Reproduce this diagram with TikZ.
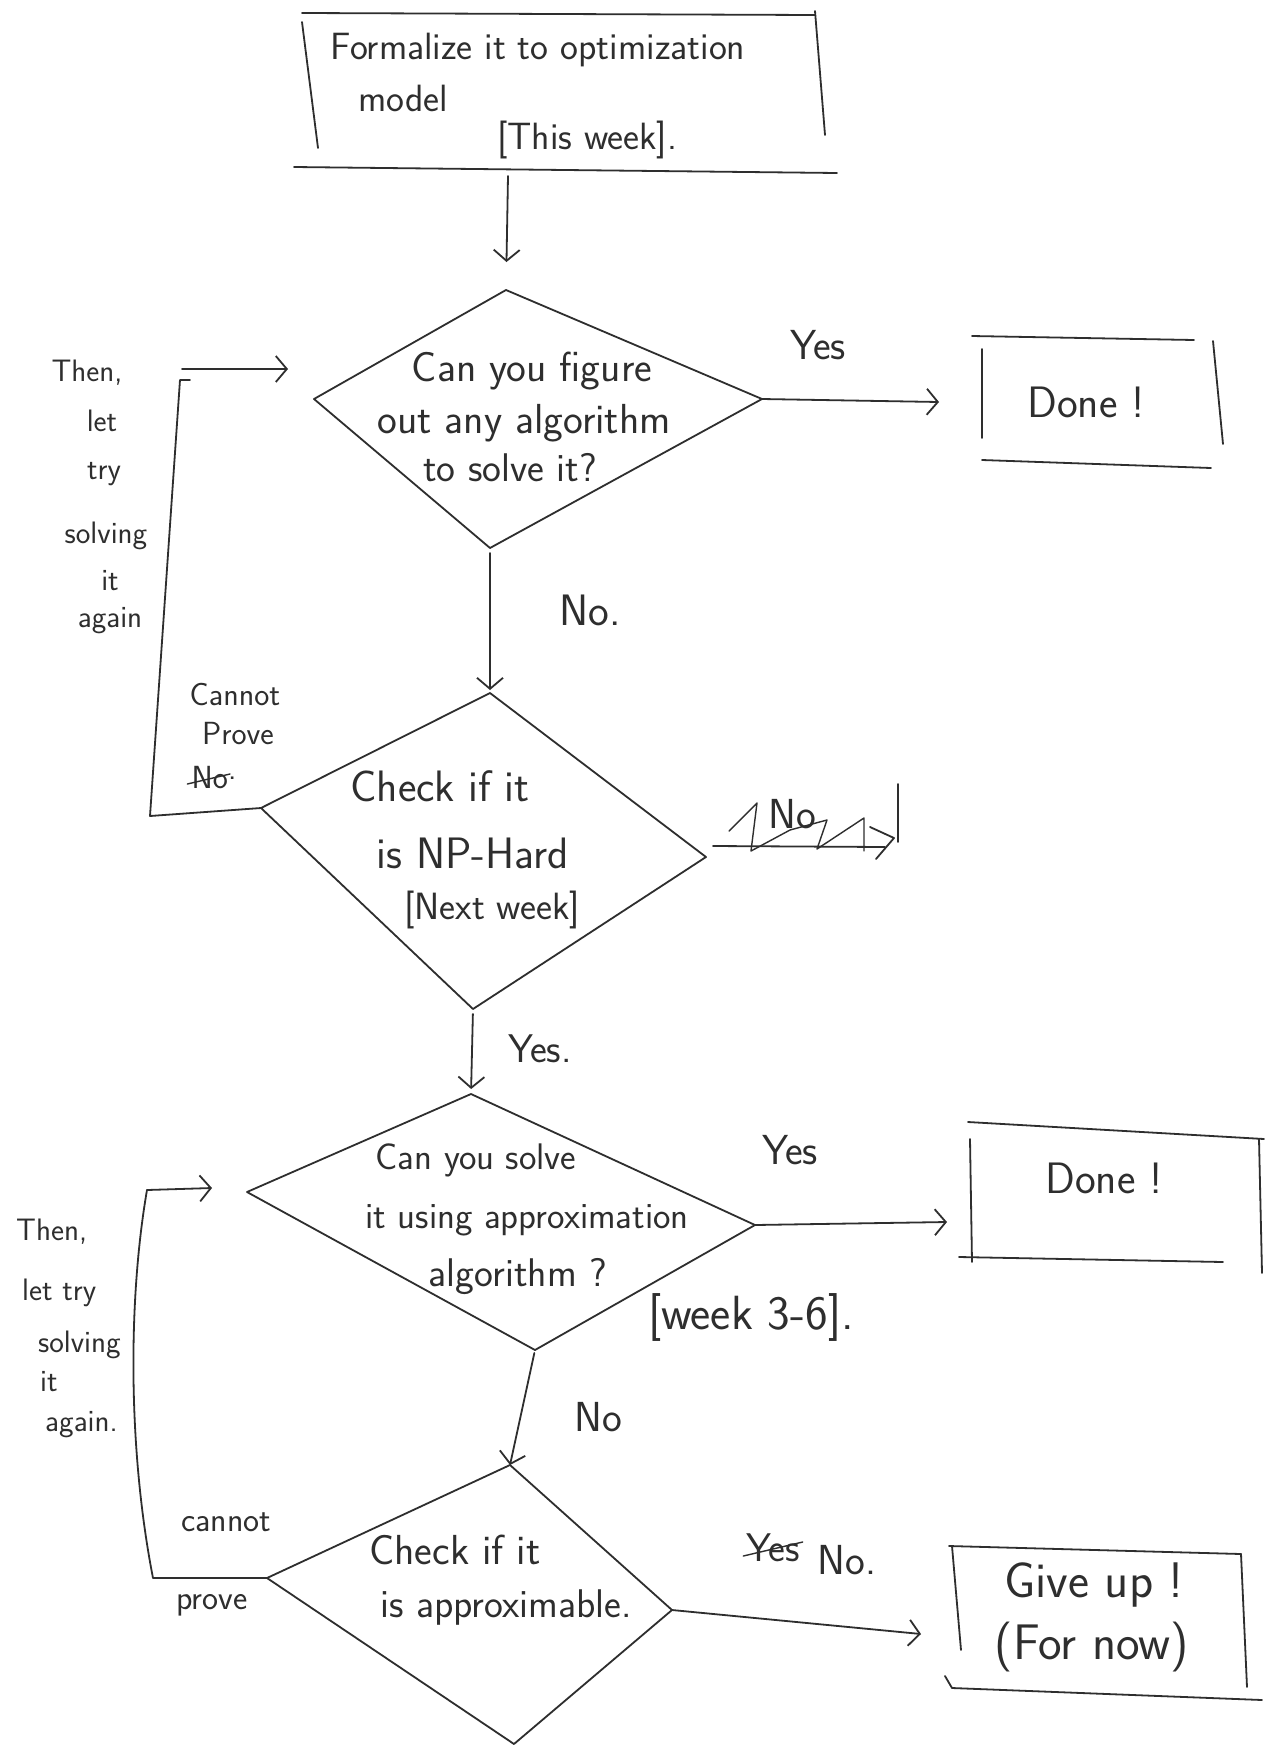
\documentclass[tikz,border=0pt]{standalone}
\usetikzlibrary{arrows.meta,calc}
\definecolor{inkc}{HTML}{2E2E2E}
\newcommand{\fs}[1]{\sffamily\fontsize{#1}{#1}\selectfont}
\tikzset{
  ink/.style={draw=inkc, line width=1.8pt, line cap=round, line join=round},
  arr/.style={ink, -{Straight Barb[length=11pt,width=26pt,line width=1.8pt]}},
  txt/.style={text=inkc, inner sep=0pt, align=center, font=\fs{40}},
  small/.style={txt, font=\fs{31}}
}
\begin{document}
\begin{tikzpicture}[x=1pt,y=-1pt]
\useasboundingbox[fill=white] (0,0) rectangle (1275,1746);

% ---------- top box ----------
\node[txt, font=\fs{38}] (f1) at (538,50) {Formalize it to optimization};
\node[txt, font=\fs{38}] (f2) at (403,98) {model};
\node[txt, font=\fs{38}] (f3) at (587,140) {[This week].};
\draw[ink] (302,13) -- (815,15);
\draw[ink] (302,22) -- (318,148);
\draw[ink] (815,11) -- (825,135);
\draw[ink] (294,167) -- (837,173);
\coordinate (fb) at (508,176);

% ---------- diamond 1 ----------
\coordinate (d1t) at (506,290);
\coordinate (d1r) at (762,399);
\coordinate (d1b) at (490,548);
\coordinate (d1l) at (314,399);
\draw[ink] (d1t) -- (d1r) -- (d1b) -- (d1l) -- cycle;
\node[txt, font=\fs{42}] (q1a) at (532,371) {Can you figure};
\node[txt, font=\fs{42}] (q1b) at (524,423) {out any algorithm};
\node[txt, font=\fs{40}] (q1c) at (510,468) {to solve it?};

% arrow top box -> diamond 1
\draw[arr, shorten >=28pt] (fb) -- (d1t);

% ---------- Done box 1 ----------
\node[txt, font=\fs{44}] (done1) at (1086,402) {Done !};
\draw[ink] (972,336) -- (1194,340);
\draw[ink] (982,349) -- (982,438);
\draw[ink] (1213,341) -- (1223,444);
\draw[ink] (982,460) -- (1211,468);
\coordinate (y1e) at (939,402);
\draw[arr] (d1r) -- (y1e);
\node[txt, font=\fs{42}] (yes1) at (818,345) {Yes};

% ---------- diamond 2 ----------
\coordinate (d2t) at (490,693);
\coordinate (d2r) at (706,857);
\coordinate (d2b) at (473,1009);
\coordinate (d2l) at (261,808);
\draw[ink] (d2t) -- (d2r) -- (d2b) -- (d2l) -- cycle;
\node[txt, font=\fs{44}] (q2a) at (440,786) {Check if it};
\node[txt, font=\fs{44}] (q2b) at (473,853) {is NP-Hard};
\node[txt, font=\fs{38}] (q2c) at (492,910) {[Next week]};

\draw[arr, shorten <=5pt, shorten >=3pt] (d1b) -- (d2t);
\node[txt, font=\fs{44}] (no1) at (590,610) {No.};

% scribbled-out branch
\coordinate (sx0) at (713,846);
\coordinate (sx1) at (885,847);
\draw[ink] (sx0) -- (sx1);
\draw[ink] (870,827) -- (894,838) -- (876,859);
\draw[ink] (898,784) -- (898,842);
\node[txt, font=\fs{42}] (no2) at (792,814) {No};
\draw[ink, line width=1.4pt] (729,831) -- (757,803) -- (751,851) -- (790,830) -- (827,820) -- (817,849) -- (864,818) -- (864,851);

% loop 1
\coordinate (l1a) at (150,816);
\coordinate (l1b) at (180,380);
\coordinate (l1c) at (182,369);
\coordinate (l1d) at (288,369);
\draw[ink] (d2l) -- (l1a) -- (l1b) -- (190,380);
\draw[arr] (l1c) -- (l1d);
\node[small] (t1a) at (87,373) {Then,};
\node[small] (t1b) at (102,421) {let};
\node[small] (t1c) at (104,474) {try};
\node[small] (t1d) at (106,536) {solving};
\node[small] (t1e) at (110,581) {it};
\node[small] (t1f) at (110,621) {again};
\node[txt, font=\fs{32}] (cp1) at (235,694) {Cannot};
\node[txt, font=\fs{32}] (cp1p) at (238,734) {Prove};
\node[txt, font=\fs{32}, anchor=east] (cp1n) at (228,778) {No};
\node[txt, font=\fs{32}, anchor=west] (cp1d) at (cp1n.east) {.};
\draw[ink, line width=1.4pt] ($(cp1n.west)+(-4,6)$) -- ($(cp1n.east)+(2,-4)$);

% ---------- diamond 3 ----------
\coordinate (d3t) at (471,1094);
\coordinate (d3r) at (755,1225);
\coordinate (d3b) at (535,1350);
\coordinate (d3l) at (247,1192);
\draw[ink] (d3t) -- (d3r) -- (d3b) -- (d3l) -- cycle;
\node[txt, font=\fs{37}] (q3a) at (476,1160) {Can you solve};
\node[txt, font=\fs{37}] (q3b) at (527,1220) {it using approximation};
\node[txt, font=\fs{40}] (q3c) at (518,1277) {algorithm ?};
\node[txt, font=\fs{48}] (wk) at (751,1317) {[week 3-6].};

\draw[arr, shorten <=5pt, shorten >=5pt] (d2b) -- (d3t);
\node[txt, font=\fs{40}] (yes2) at (540,1049) {Yes.};

% ---------- Done box 2 ----------
\node[txt, font=\fs{44}] (done2) at (1104,1178) {Done !};
\draw[ink] (968,1122) -- (1264,1139);
\draw[ink] (970,1139) -- (972,1262);
\draw[ink] (1259,1139) -- (1262,1273);
\draw[ink] (959,1257) -- (1223,1262);
\coordinate (y3e) at (947,1222);
\draw[arr] (d3r) -- (y3e);
\node[txt, font=\fs{42}] (yes3) at (790,1150) {Yes};

% ---------- diamond 4 ----------
\coordinate (d4t) at (510,1465);
\coordinate (d4r) at (672,1610);
\coordinate (d4b) at (514,1744);
\coordinate (d4l) at (267,1578);
\draw[ink] (d4t) -- (d4r) -- (d4b) -- (d4l) -- cycle;
\node[txt, font=\fs{42}] (q4a) at (455,1550) {Check if it};
\node[txt, font=\fs{40}] (q4b) at (506,1607) {is approximable.};

\draw[arr, shorten <=3pt] (d3b) -- (d4t);
\node[txt, font=\fs{42}] (no3) at (598,1417) {No};

% loop 2
\coordinate (l2a) at (153,1578);
\coordinate (l2b) at (147,1190);
\coordinate (l2c) at (212,1188);
\draw[ink] (d4l) -- (l2a) .. controls (128,1450) and (128,1300) .. (l2b);
\draw[arr] (l2b) -- (l2c);
\node[small, anchor=west] (t2a) at (16,1232) {Then,};
\node[small, anchor=west] (t2b) at (22,1293) {let try};
\node[small, anchor=west] (t2c) at (38,1345) {solving};
\node[small, anchor=west] (t2d) at (40,1382) {it};
\node[small, anchor=west] (t2e) at (45,1425) {again.};
\node[txt, font=\fs{34}] (cn2) at (226,1522) {cannot};
\node[txt, font=\fs{34}] (pv2) at (212,1605) {prove};

% ---------- Give up box ----------
\node[txt, font=\fs{50}] (giveup1) at (1094,1585) {Give up !};
\node[txt, font=\fs{50}] (giveup2) at (1092,1647) {(For now)};
\draw[ink] (949,1546) -- (1241,1554);
\draw[ink] (952,1546) -- (961,1650);
\draw[ink] (1241,1554) -- (1247,1687);
\draw[ink] (945,1676) -- (952,1688) -- (1262,1700);
\coordinate (y4e) at (921,1634);
\draw[arr] (d4r) -- (y4e);
\node[txt, font=\fs{40}] (yes4) at (773,1548) {Yes};
\draw[ink, line width=1.4pt] ($(yes4.west)+(-3,8)$) -- ($(yes4.east)+(3,-6)$);
\node[txt, font=\fs{42}] (no4) at (847,1560) {No.};
\end{tikzpicture}
\end{document}
